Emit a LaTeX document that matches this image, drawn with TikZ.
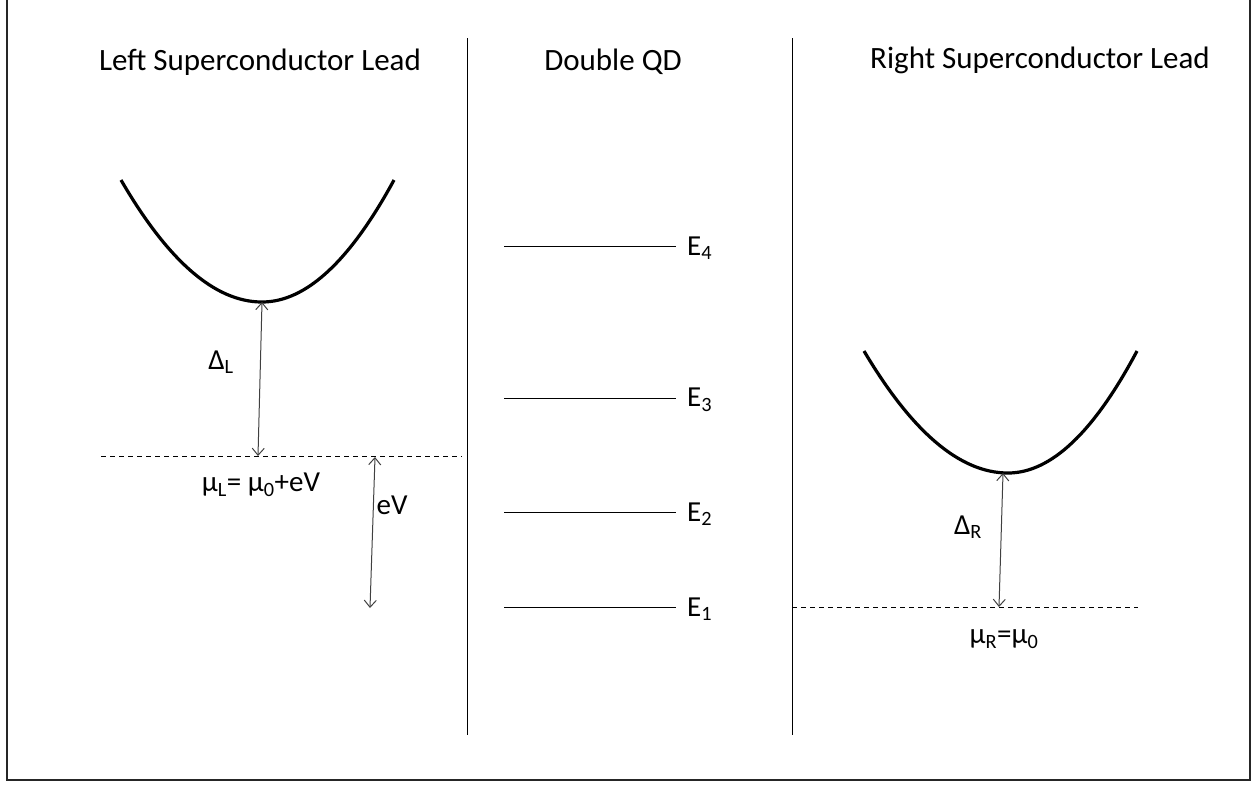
\documentclass[tikz,border=0pt]{standalone}
\usepackage{fontspec}
\setmainfont{Carlito}
\usetikzlibrary{arrows.meta}
\tikzset{
  lbl/.style={font=\fontsize{31}{35}\selectfont, inner sep=0pt, text=black},
  sym/.style={font=\fontsize{29}{33}\selectfont, inner sep=0pt, text=black},
  divider/.style={line width=1pt, black},
  level/.style={line width=0.9pt, black},
  band/.style={line width=3.2pt, black},
  fermi/.style={line width=1pt, dash pattern=on 5pt off 4pt, black},
  gap/.style={line width=1pt, black!75, {Straight Barb[length=7pt,width=12pt]}-{Straight Barb[length=7pt,width=12pt]}},
  frame/.style={line width=2pt, black!85}
}
\begin{document}
\begin{tikzpicture}[x=1pt,y=-1pt]
\useasboundingbox (0,0) rectangle (1257,785);
% frame
\coordinate (ftl) at (7,-5);
\coordinate (fbl) at (7,780);
\coordinate (fbr) at (1250,780);
\coordinate (ftr) at (1250,-5);
\draw[frame] (ftl) -- (fbl) -- (fbr) -- (ftr);
% dividers
\coordinate (d1t) at (467,38); \coordinate (d1b) at (467,735);
\coordinate (d2t) at (792,38); \coordinate (d2b) at (792,735);
\draw[divider] (d1t) -- (d1b);
\draw[divider] (d2t) -- (d2b);
% titles
\node[lbl] (tL) at (260,62) {Left Superconductor\ Lead};
\node[lbl] (tM) at (613,62) {Double QD};
\node[lbl] (tR) at (1040,60) {Right Superconductor\ Lead};
% left band
\coordinate (lA) at (121,180);
\coordinate (lmin) at (262,302);
\coordinate (lB) at (394,180);
\draw[band] (lA) .. controls (168,261) and (215,302) .. (lmin)
            .. controls (306,302) and (350,261) .. (lB);
% left fermi level
\coordinate (lfa) at (101,456);
\coordinate (lfb) at (462,456);
\draw[fermi] (lfa) -- (lfb);
\coordinate (lgap) at (258,456);
\draw[gap] (lmin) -- (lgap);
\node[sym] (DL) at (221,362) {Δ\textsubscript{L}};
\node[sym] (muL) at (261,485) {μ\textsubscript{L}= μ\textsubscript{0}+eV};
\coordinate (eVt) at (375,457);
\coordinate (eVb) at (370,608);
\draw[gap] (eVt) -- (eVb);
\node[sym] (eV) at (392,505) {eV};
% levels
\foreach \n/\y in {4/246,3/398,2/512,1/607}{
  \coordinate (a\n) at (504,\y);
  \coordinate (b\n) at (676,\y);
  \draw[level] (a\n) -- (b\n);
  \node[sym, anchor=west] (E\n) at (687,\y+2) {E\textsubscript{\n}};
}
% right band
\coordinate (rA) at (864,351);
\coordinate (rmin) at (1008,473);
\coordinate (rB) at (1137,351);
\draw[band] (rA) .. controls (912,432) and (960,473) .. (rmin)
            .. controls (1051,473) and (1094,432) .. (rB);
\coordinate (rfa) at (792,607);
\coordinate (rfb) at (1138,607);
\draw[fermi] (rfa) -- (rfb);
\coordinate (rgap) at (999,607);
\coordinate (rtop) at (1003,473);
\draw[gap] (rtop) -- (rgap);
\node[sym] (DR) at (968,527) {Δ\textsubscript{R}};
\node[sym] (muR) at (1004,639) {μ\textsubscript{R}=μ\textsubscript{0}};
\end{tikzpicture}
\end{document}
